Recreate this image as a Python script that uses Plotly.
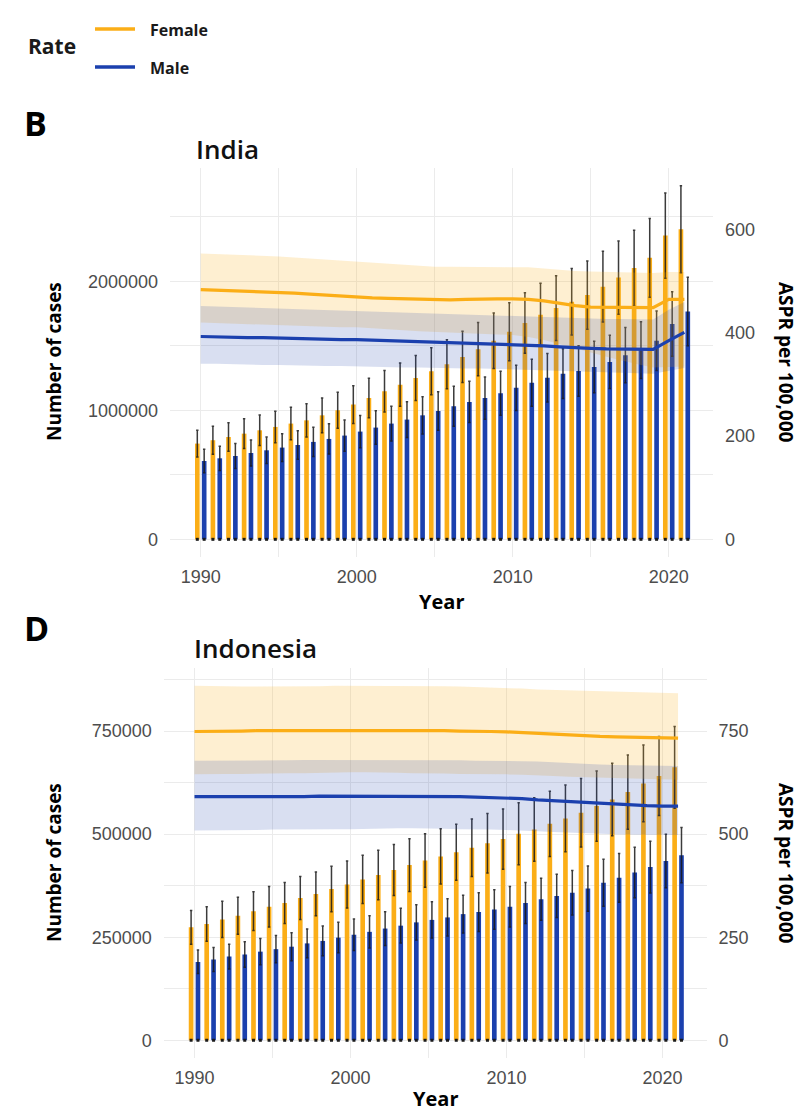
import numpy as np
import plotly.graph_objects as go

# ---------------- data ----------------
years = list(range(1990, 2022))

# India, number of cases (thousands)
india_f_cases = [742, 768, 793, 819, 845, 871, 897, 922, 961, 1000, 1044, 1096, 1147, 1199, 1250, 1302,
                 1357, 1414, 1474, 1539, 1609, 1677, 1740, 1792, 1841, 1893, 1958, 2029, 2102, 2182, 2354, 2404]
india_f_cases_lo = [638, 660, 682, 704, 727, 749, 771, 793, 826, 860, 898, 943, 986, 1031, 1075, 1120,
                    1167, 1216, 1268, 1324, 1384, 1442, 1496, 1541, 1583, 1628, 1684, 1745, 1808, 1877, 2024, 2067]
india_f_cases_hi = [846, 876, 904, 934, 963, 993, 1023, 1051, 1096, 1140, 1190, 1249, 1308, 1367, 1425, 1484,
                    1547, 1612, 1680, 1754, 1834, 1912, 1984, 2043, 2099, 2158, 2232, 2313, 2396, 2487, 2684, 2741]
india_m_cases = [607, 628, 646, 669, 690, 711, 731, 755, 778, 804, 835, 866, 897, 928, 961, 995,
                 1031, 1065, 1095, 1132, 1174, 1214, 1253, 1284, 1305, 1336, 1375, 1427, 1466, 1539, 1669, 1766]
india_m_cases_lo = [516, 534, 549, 569, 587, 604, 621, 642, 661, 683, 710, 736, 762, 789, 817, 846,
                    876, 905, 931, 962, 998, 1032, 1065, 1091, 1109, 1136, 1169, 1213, 1246, 1308, 1419, 1501]
india_m_cases_hi = [698, 722, 743, 769, 794, 818, 841, 868, 895, 925, 960, 996, 1032, 1067, 1105, 1144,
                    1186, 1225, 1259, 1302, 1350, 1396, 1441, 1477, 1501, 1536, 1581, 1641, 1686, 1770, 1919, 2031]

# India, ASPR per 100,000
india_f_aspr = [484, 483, 482, 481, 480, 479, 477, 475, 473, 471, 470, 468, 467, 466, 465, 464,
                464, 465, 466, 466, 466, 465, 462, 457, 453, 450, 450, 449, 449, 449, 465, 465]
india_f_aspr_hi = [554, 553, 551, 550, 549, 548, 546, 544, 542, 540, 538, 536, 534, 532, 530, 528,
                   528, 528, 528, 528, 528, 527, 525, 522, 520, 519, 518, 517, 516, 516, 518, 518]
india_f_aspr_lo = [420, 419, 418, 417, 416, 415, 414, 413, 412, 411, 411, 409, 407, 405, 403, 401,
                   400, 399, 398, 397, 396, 392, 386, 378, 370, 362, 354, 346, 339, 333, 334, 335]
india_m_aspr = [393, 392, 392, 391, 391, 390, 389, 388, 388, 387, 387, 386, 385, 384, 383, 382,
                381, 380, 379, 379, 378, 377, 375, 373, 371, 370, 369, 369, 368, 368, 385, 401]
india_m_aspr_hi = [452, 451, 450, 449, 448, 447, 446, 445, 444, 443, 443, 442, 441, 439, 438, 437,
                   436, 435, 434, 433, 432, 431, 430, 429, 428, 428, 427, 427, 426, 426, 445, 460]
india_m_aspr_lo = [340, 340, 339, 339, 338, 338, 337, 337, 336, 336, 335, 335, 334, 333, 333, 332,
                   332, 331, 331, 330, 330, 329, 328, 327, 326, 325, 324, 323, 322, 321, 326, 332]

# Indonesia, number of cases (thousands)
indo_f_cases = [274, 282, 293, 302, 313, 324, 333, 345, 355, 367, 378, 390, 401, 413, 425, 436,
                446, 456, 467, 478, 488, 501, 511, 525, 538, 552, 568, 584, 602, 623, 641, 662]
indo_f_cases_lo = [233, 240, 249, 257, 266, 275, 283, 293, 302, 312, 321, 332, 341, 351, 361, 371,
                   379, 388, 397, 406, 415, 426, 434, 446, 457, 469, 483, 496, 512, 530, 545, 563]
indo_f_cases_hi = [315, 324, 337, 347, 360, 373, 383, 397, 408, 422, 435, 449, 461, 475, 489, 501,
                   513, 524, 537, 550, 561, 576, 588, 604, 619, 635, 653, 672, 692, 716, 737, 761]
indo_m_cases = [190, 196, 203, 208, 215, 221, 227, 235, 241, 249, 256, 263, 271, 278, 286, 292,
                298, 306, 311, 317, 324, 333, 342, 350, 358, 368, 382, 394, 407, 420, 435, 449]
indo_m_cases_lo = [162, 167, 173, 177, 183, 188, 193, 200, 205, 212, 218, 224, 230, 236, 243, 248,
                   253, 260, 264, 269, 275, 283, 291, 298, 304, 313, 325, 335, 346, 357, 370, 382]
indo_m_cases_hi = [219, 225, 233, 239, 247, 254, 261, 270, 277, 286, 294, 302, 312, 320, 329, 336,
                   343, 352, 358, 365, 373, 383, 393, 403, 412, 423, 439, 453, 468, 483, 500, 516]

# Indonesia, ASPR per 100,000
indo_f_aspr = [749, 749, 750, 750, 751, 751, 751, 752, 752, 752, 752, 752, 752, 751, 751, 751,
               751, 750, 750, 749, 748, 746, 744, 742, 740, 738, 737, 736, 735, 734, 733, 733]
indo_f_aspr_hi = [860, 859, 859, 858, 858, 858, 858, 859, 859, 860, 860, 860, 860, 860, 860, 860,
                  859, 858, 857, 856, 854, 853, 851, 850, 848, 847, 846, 845, 844, 843, 843, 842]
indo_f_aspr_lo = [645, 645, 646, 646, 647, 647, 648, 648, 649, 649, 650, 650, 650, 649, 648, 647,
                  647, 646, 646, 645, 645, 644, 643, 641, 639, 637, 636, 635, 634, 633, 633, 632]
indo_m_aspr = [591, 591, 591, 590, 590, 590, 591, 591, 592, 592, 592, 592, 592, 592, 592, 592,
               591, 591, 590, 589, 588, 586, 583, 581, 578, 576, 574, 572, 570, 569, 568, 568]
indo_m_aspr_hi = [678, 678, 678, 679, 679, 679, 679, 680, 680, 680, 680, 680, 680, 680, 680, 679,
                  679, 679, 678, 678, 678, 677, 676, 674, 672, 670, 669, 668, 667, 666, 666, 665]
indo_m_aspr_lo = [509, 509, 510, 510, 510, 511, 511, 511, 512, 512, 512, 513, 513, 514, 514, 514,
                  513, 512, 511, 511, 510, 509, 507, 505, 503, 502, 501, 500, 499, 498, 498, 498]

india_x_ticks = [1990, 2000, 2010, 2020]
india_y_ticks = [0, 1000000, 2000000]
india_y2_ticks = [0, 200, 400, 600]
indo_y_ticks = [0, 250000, 500000, 750000]
indo_y2_ticks = [0, 250, 500, 750]

# secondary axis scale: cases = ASPR * scale
INDIA_SCALE = 4000
INDO_SCALE = 1000

# ---------------- styling ----------------
FEMALE = "#FBAE17"
MALE = "#1B40AE"
FEMALE_BAND = "rgba(251,174,23,0.20)"
MALE_BAND = "rgba(27,64,174,0.17)"
GRID = "#EBEBEB"
TICK_FONT = dict(family="Liberation Sans, Arial", size=18, color="#4D4D4D")
TITLE_FONT = "Open Sans"

W, H = 802, 1112
BAR_OFF = 0.22


def px_x(p):
    return p / W


def px_y(p):
    return 1 - p / H


fig = go.Figure()


def add_panel(xa, ya, ya2, fc, fcl, fch, mc, mcl, mch,
              fa, fal, fah, ma, mal, mah):
    yrs = np.array(years)
    k = 1000
    for vals, lo, hi, col in [(fc, fcl, fch, FEMALE), (mc, mcl, mch, MALE)]:
        v = np.array(vals) * k
        fig.add_trace(go.Bar(
            x=yrs, y=v, xaxis=xa, yaxis=ya, marker=dict(color=col, line=dict(width=0)),
            error_y=dict(type="data", symmetric=False,
                         array=np.array(hi) * k - v, arrayminus=v - np.array(lo) * k,
                         color="rgba(25,25,25,0.85)", thickness=1.5, width=1.2),
            showlegend=False, hoverinfo="skip"))
    # small dark marks at bar bases
    for off in (-BAR_OFF, BAR_OFF):
        fig.add_trace(go.Scatter(
            x=yrs + off, y=np.zeros(len(yrs)), xaxis=xa, yaxis=ya, mode="markers",
            marker=dict(symbol="square", size=3, color="#1a1a1a"),
            showlegend=False, hoverinfo="skip"))
    # uncertainty ribbons
    for lo, hi, col in [(fal, fah, FEMALE_BAND), (mal, mah, MALE_BAND)]:
        fig.add_trace(go.Scatter(
            x=list(yrs) + list(yrs[::-1]), y=list(hi) + list(lo[::-1]),
            xaxis=xa, yaxis=ya2, fill="toself", fillcolor=col, mode="lines",
            line=dict(width=0, color=col), showlegend=False, hoverinfo="skip"))
    for vals, col in [(fa, FEMALE), (ma, MALE)]:
        fig.add_trace(go.Scatter(
            x=yrs, y=vals, xaxis=xa, yaxis=ya2, mode="lines",
            line=dict(color=col, width=3.2), showlegend=False, hoverinfo="skip"))


add_panel("x", "y", "y2", india_f_cases, india_f_cases_lo, india_f_cases_hi,
          india_m_cases, india_m_cases_lo, india_m_cases_hi,
          india_f_aspr, india_f_aspr_lo, india_f_aspr_hi,
          india_m_aspr, india_m_aspr_lo, india_m_aspr_hi)
add_panel("x2", "y3", "y4", indo_f_cases, indo_f_cases_lo, indo_f_cases_hi,
          indo_m_cases, indo_m_cases_lo, indo_m_cases_hi,
          indo_f_aspr, indo_f_aspr_lo, indo_f_aspr_hi,
          indo_m_aspr, indo_m_aspr_lo, indo_m_aspr_hi)


def yrange(cases_hi_lists, aspr_hi_lists, scale):
    top = max(max(max(l) * 1000 for l in cases_hi_lists), max(max(l) for l in aspr_hi_lists) * scale)
    pad = top * 0.05
    return [-pad, top + pad]


india_range = yrange([india_f_cases_hi, india_m_cases_hi], [india_f_aspr_hi, india_m_aspr_hi], INDIA_SCALE)
indo_range = yrange([indo_f_cases_hi, indo_m_cases_hi], [indo_f_aspr_hi, indo_m_aspr_hi], INDO_SCALE)
x_range = [1988.03, 2022.83]

india_dom_x = [px_x(170), px_x(712.9)]
indo_dom_x = [px_x(163.8), px_x(706.6)]
india_dom_y = [px_y(557), px_y(168)]
indo_dom_y = [px_y(1058), px_y(668)]

xcommon = dict(range=x_range, tickvals=india_x_ticks, showgrid=True, gridcolor=GRID, gridwidth=1.1,
               minor=dict(dtick=5, tick0=1990, showgrid=True, gridcolor=GRID, gridwidth=1.1),
               zeroline=False, showline=False, ticks="", tickfont=TICK_FONT, ticklabelstandoff=7)
ycommon = dict(showgrid=True, gridcolor=GRID, gridwidth=1.1, zeroline=False, showline=False,
               ticks="", tickfont=TICK_FONT, tickformat="d", ticklabelstandoff=11)

fig.update_layout(
    width=W, height=H, margin=dict(l=0, r=0, t=0, b=0),
    paper_bgcolor="white", plot_bgcolor="white",
    barmode="group", bargap=0.12, bargroupgap=0.32,
    xaxis=dict(domain=india_dom_x, anchor="y", **xcommon),
    yaxis=dict(domain=india_dom_y, anchor="x", range=india_range, tickvals=india_y_ticks,
               minor=dict(tickvals=[500000, 1500000, 2500000], showgrid=True, gridcolor=GRID, gridwidth=1.1),
               **ycommon),
    yaxis2=dict(overlaying="y", side="right", anchor="x",
                range=[india_range[0] / INDIA_SCALE, india_range[1] / INDIA_SCALE],
                tickvals=india_y2_ticks, showgrid=False, zeroline=False, showline=False, ticks="",
                tickfont=TICK_FONT, ticklabelstandoff=11),
    xaxis2=dict(domain=indo_dom_x, anchor="y3", **xcommon),
    yaxis3=dict(domain=indo_dom_y, anchor="x2", range=indo_range, tickvals=indo_y_ticks,
                minor=dict(tickvals=[125000, 375000, 625000, 875000], showgrid=True, gridcolor=GRID, gridwidth=1.1),
                **ycommon),
    yaxis4=dict(overlaying="y3", side="right", anchor="x2",
                range=[indo_range[0] / INDO_SCALE, indo_range[1] / INDO_SCALE],
                tickvals=indo_y2_ticks, showgrid=False, zeroline=False, showline=False, ticks="",
                tickfont=TICK_FONT, ticklabelstandoff=11),
    showlegend=False,
)

ann = []


def text(x, y, s, size, weight="bold", angle=0, xanchor="center", color="black", family=TITLE_FONT):
    ann.append(dict(x=px_x(x), y=px_y(y), xref="paper", yref="paper", text=s, showarrow=False,
                    textangle=angle, xanchor=xanchor, yanchor="middle",
                    font=dict(family=family, size=size, color=color, weight=weight)))


# legend
text(26, 46, "Rate", 21, weight="bold", xanchor="left", color="#1a1a1a")
text(148, 30, "Female", 16, xanchor="left", color="#1a1a1a")
text(148, 68, "Male", 16, xanchor="left", color="#1a1a1a")
shapes = [
    dict(type="line", xref="paper", yref="paper", x0=px_x(95), x1=px_x(135), y0=px_y(29), y1=px_y(29),
         line=dict(color=FEMALE, width=3.5)),
    dict(type="line", xref="paper", yref="paper", x0=px_x(95), x1=px_x(135), y0=px_y(67), y1=px_y(67),
         line=dict(color=MALE, width=3.5)),
]

# panel letters and titles
text(22, 123, "B", 34, xanchor="left")
text(22, 628, "D", 34, xanchor="left")
text(194, 149, "India", 26, weight=600, xanchor="left", color="#111")
text(192, 648, "Indonesia", 26, weight=600, xanchor="left", color="#111")

# axis titles
text(54, 362, "Number of cases", 19, angle=-90)
text(786, 362, "ASPR per 100,000", 19, angle=90)
text(441, 601, "Year", 20)
text(54, 863, "Number of cases", 19, angle=-90)
text(786, 863, "ASPR per 100,000", 19, angle=90)
text(435, 1098, "Year", 20)

fig.update_layout(annotations=ann, shapes=shapes)
fig.write_html("out.html")
